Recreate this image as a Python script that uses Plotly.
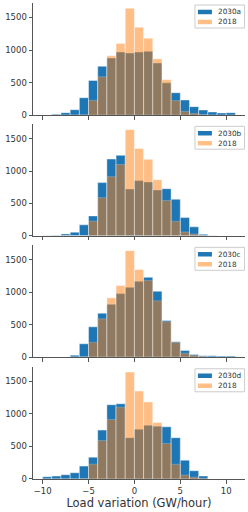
import plotly.graph_objects as go
from plotly.subplots import make_subplots

bin_left = list(range(-10, 11))
bin_centers = [b + 0.5 for b in bin_left]

scenario_names = ["2030a", "2030b", "2030c", "2030d"]
ref_name = "2018"

values_2018 = [0, 0, 0, 0, 5, 228, 590, 914, 1102, 1640, 1350, 1182, 867, 546, 225, 60, 28, 10, 0, 0, 0]
values_2030a = [5, 15, 40, 85, 269, 533, 751, 878, 970, 954, 970, 980, 802, 497, 345, 234, 132, 81, 50, 35, 40]
values_2030b = [5, 10, 30, 57, 170, 308, 822, 1186, 1243, 724, 853, 832, 709, 729, 565, 282, 139, 26, 5, 0, 0]
values_2030c = [0, 0, 0, 30, 205, 466, 676, 814, 978, 1075, 1167, 1229, 1014, 563, 236, 102, 41, 20, 20, 15, 15]
values_2030d = [35, 45, 66, 96, 198, 335, 750, 1140, 1155, 634, 765, 826, 811, 800, 634, 289, 127, 46, 0, 0, 0]

x_ticks = [-10, -5, 0, 5, 10]
x_tick_labels = ["\u221210", "\u22125", "0", "5", "10"]
y_ticks = [0, 500, 1000, 1500]
x_title = "Load variation (GW/hour)"

scen_values = [values_2030a, values_2030b, values_2030c, values_2030d]

BLUE = "#1f77b4"
ORANGE = "#ff7f0e"
ORANGE_HALF = "rgba(255,127,14,0.5)"
FONT = "DejaVu Sans"
TXT = "#333333"

fig = make_subplots(rows=4, cols=1, shared_xaxes=True)

domains = [[0.7642, 1.0], [0.5108, 0.7451], [0.2561, 0.4909], [0.0, 0.2358]]

for i, (name, vals) in enumerate(zip(scenario_names, scen_values)):
    r = i + 1
    fig.add_trace(go.Bar(x=bin_centers, y=vals, width=1, name=name, showlegend=False,
                         marker=dict(color=BLUE, line=dict(color="rgba(255,255,255,0.7)", width=0.6))),
                  row=r, col=1)
    fig.add_trace(go.Bar(x=bin_centers, y=values_2018, width=1, name=ref_name, showlegend=False,
                         marker=dict(color=ORANGE, line=dict(color="rgba(255,255,255,0.7)", width=0.6)),
                         opacity=0.5), row=r, col=1)

# per-panel legend boxes (decoration in axis-domain coordinates)
for i, name in enumerate(scenario_names):
    xs = "x" if i == 0 else f"x{i+1}"
    ys = "y" if i == 0 else f"y{i+1}"
    xr, yr = f"{xs} domain", f"{ys} domain"
    fig.add_shape(type="rect", xref=xr, yref=yr, x0=0.764, x1=0.998, y0=0.777, y1=0.982,
                  line=dict(color="#cccccc", width=1), fillcolor="rgba(255,255,255,0.8)", layer="above")
    for j, (lab, col, yc) in enumerate([(name, BLUE, 0.92), (ref_name, ORANGE_HALF, 0.831)]):
        fig.add_shape(type="rect", xref=xr, yref=yr, x0=0.778, x1=0.844, y0=yc - 0.02, y1=yc + 0.02,
                      line=dict(width=0), fillcolor=col, layer="above")
        fig.add_annotation(xref=xr, yref=yr, x=0.862, y=yc, text=lab, showarrow=False,
                           xanchor="left", yanchor="middle",
                           font=dict(family=FONT, size=7.3, color=TXT))

fig.update_layout(
    width=248, height=512,
    margin=dict(l=33, r=3, t=3, b=32.7, autoexpand=False),
    barmode="overlay", bargap=0,
    plot_bgcolor="white", paper_bgcolor="white",
    font=dict(family=FONT, size=8.5, color=TXT),
    showlegend=False, hovermode=False,
)

for i in range(4):
    r = i + 1
    fig.update_yaxes(domain=domains[i], range=[0, 1722], tickvals=y_ticks, automargin=False,
                     showgrid=False, zeroline=False, showline=True, linecolor="#555555",
                     linewidth=1, ticks="outside", ticklen=3.5, tickcolor="#555555",
                     tickfont=dict(family=FONT, size=8.5, color=TXT), row=r, col=1)
    fig.update_xaxes(range=[-11.05, 12.05], tickvals=x_ticks, automargin=False,
                     showgrid=False, zeroline=False, showline=True, linecolor="#555555",
                     linewidth=1, ticks="outside", ticklen=3.5, tickcolor="#555555",
                     tickfont=dict(family=FONT, size=8.5, color=TXT), row=r, col=1)

fig.update_xaxes(showticklabels=True, ticktext=x_tick_labels,
                 title=dict(text=x_title, font=dict(family=FONT, size=11.5, color=TXT), standoff=2),
                 row=4, col=1)

fig.write_html("out.html", config={"displayModeBar": False, "staticPlot": True},
               post_script="document.body.style.margin='0';document.body.style.overflow='hidden';")
